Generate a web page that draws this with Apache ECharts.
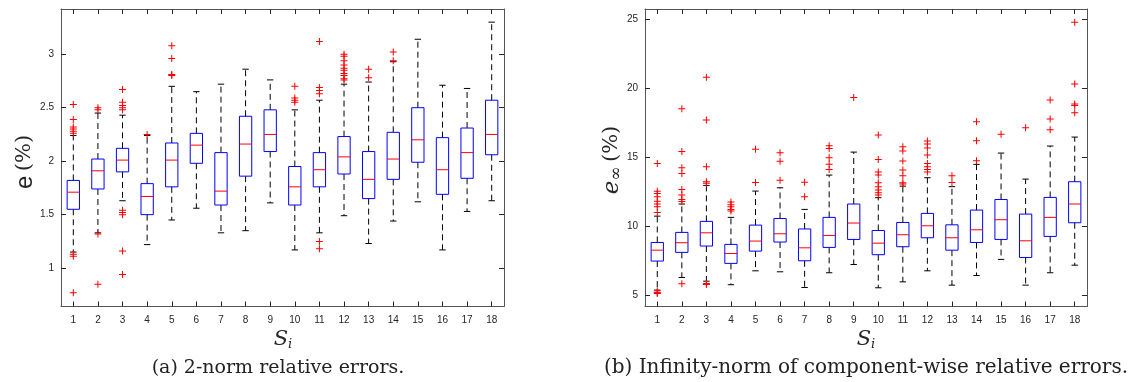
<!DOCTYPE html>
<html>
<head>
<meta charset="utf-8">
<script src="https://cdn.jsdelivr.net/npm/echarts@6/dist/echarts.min.js"></script>
<style>
html,body{margin:0;padding:0;background:#fff;}
#chart{width:1141px;height:382px;}
</style>
</head>
<body>
<div id="chart"></div>
<script>
// ---------- data ----------
const categories = ['1','2','3','4','5','6','7','8','9','10','11','12','13','14','15','16','17','18'];

// (a) 2-norm relative errors (%)
const errLow  = [1.15, 1.33, 1.63, 1.22, 1.45, 1.56, 1.33, 1.35, 1.61, 1.17, 1.33, 1.49, 1.23, 1.44, 1.62, 1.17, 1.53, 1.63];
const errQ1   = [1.55, 1.74, 1.90, 1.50, 1.76, 1.98, 1.59, 1.86, 2.09, 1.59, 1.76, 1.88, 1.65, 1.83, 1.99, 1.69, 1.84, 2.06];
const errMed  = [1.71, 1.91, 2.01, 1.67, 2.01, 2.15, 1.72, 2.16, 2.25, 1.76, 1.92, 2.04, 1.83, 2.02, 2.20, 1.92, 2.08, 2.25];
const errQ3   = [1.82, 2.02, 2.12, 1.79, 2.17, 2.26, 2.08, 2.42, 2.48, 1.95, 2.08, 2.23, 2.09, 2.27, 2.50, 2.22, 2.31, 2.57];
const errHigh = [2.24, 2.45, 2.43, 2.24, 2.70, 2.65, 2.72, 2.86, 2.76, 2.48, 2.57, 2.72, 2.74, 2.93, 3.14, 2.71, 2.68, 3.30];
const errOutliers = [
  [2.53, 2.39, 2.32, 2.30, 2.28, 2.26, 1.13, 1.11, 0.77],
  [2.50, 2.48, 1.32, 0.85],
  [2.67, 2.55, 2.52, 2.50, 2.48, 1.54, 1.52, 1.50, 1.16, 0.94],
  [2.25],
  [3.08, 2.96, 2.81, 2.80],
  [], [], [], [],
  [2.70, 2.59, 2.57, 2.55],
  [3.12, 2.69, 2.66, 2.63, 1.25, 1.18],
  [3.00, 2.98, 2.94, 2.90, 2.87, 2.85, 2.82, 2.80, 2.77, 2.76],
  [2.86, 2.78],
  [3.02, 2.94],
  [], [], [], []
];
const errTicks = [1, 1.5, 2, 2.5, 3];

// (b) infinity-norm of component-wise relative errors (%)
const infLow  = [5.34, 6.26, 5.99, 5.73, 6.74, 6.67, 5.53, 6.60, 7.20, 5.51, 5.94, 6.74, 5.70, 6.40, 7.57, 5.70, 6.60, 7.15];
const infQ1   = [7.45, 8.08, 8.54, 7.28, 8.17, 8.83, 7.47, 8.44, 9.02, 7.91, 8.49, 9.14, 8.24, 8.80, 9.02, 7.71, 9.24, 10.23];
const infMed  = [8.24, 8.78, 9.50, 8.00, 8.90, 9.43, 8.41, 9.31, 10.21, 8.75, 9.36, 10.01, 9.14, 9.72, 10.45, 8.92, 10.62, 11.59];
const infQ3   = [8.80, 9.53, 10.33, 8.66, 10.06, 10.54, 9.78, 10.62, 11.59, 9.67, 10.25, 10.91, 10.08, 11.15, 11.92, 10.86, 12.07, 13.21];
const infHigh = [10.71, 11.59, 12.94, 10.62, 12.53, 12.77, 11.20, 13.69, 15.36, 12.05, 12.89, 13.50, 12.85, 14.47, 15.29, 13.40, 15.80, 16.45];
const infOutliers = [
  [14.54, 12.51, 12.36, 12.12, 11.80, 11.59, 11.39, 10.98, 5.29, 5.17, 5.10],
  [18.51, 15.41, 14.22, 13.81, 12.65, 12.24, 11.92, 11.78, 5.80],
  [20.79, 17.69, 14.30, 13.21, 13.09, 5.82, 5.75],
  [11.73, 11.54, 11.39, 11.20, 11.08],
  [15.56, 13.16],
  [15.31, 14.69, 13.31],
  [13.18, 12.12],
  [15.82, 15.63, 14.95, 14.47, 14.10],
  [19.33],
  [16.60, 14.83, 13.91, 13.69, 13.14, 12.85, 12.60, 12.41, 12.24],
  [15.75, 15.44, 14.71, 14.06, 13.64, 13.14, 13.04],
  [16.16, 15.94, 15.65, 15.15, 14.54, 14.30, 14.10, 13.91],
  [13.64, 13.16],
  [17.57, 16.19, 14.73],
  [16.65],
  [17.13],
  [19.14, 17.76, 16.99],
  [24.78, 20.30, 18.85, 18.75, 18.22]
];
const infTicks = [5, 10, 15, 20, 25];

// ---------- helpers ----------
const AXIS_COLOR = '#555555';
const TEXT_COLOR = '#262626';
const PLUS = 'path://M3,0h1v3h3v1h-3v3h-1v-3h-3v-1h3z';

function boxRows(lo, q1, md, q3, hi) {
  return categories.map((c, i) => [i, lo[i], q1[i], md[i], q3[i], hi[i]]);
}
function outlierPoints(list) {
  const pts = [];
  list.forEach((arr, i) => arr.forEach(v => pts.push([i, v])));
  return pts;
}

function seg(x1, y1, x2, y2, color, dashed) {
  return {
    type: 'line',
    shape: { x1: x1, y1: y1, x2: x2, y2: y2 },
    style: dashed ? { stroke: color, lineWidth: 1, lineDash: [6, 4] } : { stroke: color, lineWidth: 1 }
  };
}

function renderBox(params, api) {
  const i = api.value(0);
  const low = api.coord([i, api.value(1)]);
  const q1 = api.coord([i, api.value(2)]);
  const med = api.coord([i, api.value(3)]);
  const q3 = api.coord([i, api.value(4)]);
  const high = api.coord([i, api.value(5)]);
  const band = api.size([1, 0])[0];
  const hw = band * 0.25;
  const cw = band * 0.13;
  const cx = low[0];
  const BLUE = '#0000ff';
  return {
    type: 'group',
    children: [
      seg(cx, q3[1], cx, high[1], '#000', true),
      seg(cx, q1[1], cx, low[1], '#000', true),
      seg(cx - cw, high[1], cx + cw, high[1], '#000', false),
      seg(cx - cw, low[1], cx + cw, low[1], '#000', false),
      seg(cx - hw, q3[1], cx + hw, q3[1], BLUE, false),
      seg(cx - hw, q1[1], cx + hw, q1[1], BLUE, false),
      seg(cx - hw, q3[1], cx - hw, q1[1], BLUE, false),
      seg(cx + hw, q3[1], cx + hw, q1[1], BLUE, false),
      seg(cx - hw, med[1], cx + hw, med[1], '#ff0000', false)
    ]
  };
}

function xAxes(gi) {
  const common = {
    type: 'category', data: categories, gridIndex: gi,
    axisLine: { show: true, lineStyle: { color: AXIS_COLOR, width: 1 } },
    axisTick: { show: true, inside: true, alignWithLabel: true, length: 5, lineStyle: { color: TEXT_COLOR } },
    splitLine: { show: false }
  };
  return [
    Object.assign({}, common, { position: 'bottom',
      axisLabel: { show: true, margin: 9, color: TEXT_COLOR, fontSize: 10, fontFamily: 'Liberation Sans' } }),
    Object.assign({}, common, { position: 'top', axisLabel: { show: false } })
  ];
}
function yAxes(gi, min, max, ticks) {
  const common = {
    type: 'value', gridIndex: gi, min: min, max: max,
    axisLine: { show: true, lineStyle: { color: AXIS_COLOR, width: 1 } },
    axisTick: { show: true, inside: true, length: 5, customValues: ticks, lineStyle: { color: TEXT_COLOR } },
    splitLine: { show: false }
  };
  return [
    Object.assign({}, common, { position: 'left',
      axisLabel: { show: true, customValues: ticks, margin: 7, color: TEXT_COLOR, fontSize: 10, fontFamily: 'Liberation Sans' } }),
    Object.assign({}, common, { position: 'right', axisLabel: { show: false } })
  ];
}

const chart = echarts.init(document.getElementById('chart'), null, { renderer: 'canvas' });

const option = {
  animation: false,
  backgroundColor: '#ffffff',
  grid: [
    { left: 61, top: 9, width: 443, height: 297.5 },
    { left: 645, top: 9, width: 442, height: 297.5 }
  ],
  xAxis: [].concat(xAxes(0), xAxes(1)),
  yAxis: [].concat(yAxes(0, 0.641, 3.423, errTicks), yAxes(1, 4.15, 25.75, infTicks)),
  series: [
    { type: 'custom', xAxisIndex: 0, yAxisIndex: 0, renderItem: renderBox,
      data: boxRows(errLow, errQ1, errMed, errQ3, errHigh), encode: { x: 0, y: [1, 2, 3, 4, 5] }, z: 2 },
    { type: 'scatter', xAxisIndex: 0, yAxisIndex: 0, symbol: PLUS, symbolSize: 7,
      itemStyle: { color: '#ff0000', opacity: 1 }, data: outlierPoints(errOutliers), z: 3 },
    { type: 'custom', xAxisIndex: 2, yAxisIndex: 2, renderItem: renderBox,
      data: boxRows(infLow, infQ1, infMed, infQ3, infHigh), encode: { x: 0, y: [1, 2, 3, 4, 5] }, z: 2 },
    { type: 'scatter', xAxisIndex: 2, yAxisIndex: 2, symbol: PLUS, symbolSize: 7,
      itemStyle: { color: '#ff0000', opacity: 1 }, data: outlierPoints(infOutliers), z: 3 }
  ],
  graphic: [
    { type: 'text', x: 25, y: 162, rotation: Math.PI / 2,
      style: { text: '{e|e}{g| }{p|(%)}', align: 'center', verticalAlign: 'middle', fill: TEXT_COLOR,
        rich: { e: { fontFamily: 'Liberation Sans', fontSize: 24, fill: TEXT_COLOR },
                g: { fontFamily: 'DejaVu Serif', fontSize: 14, fill: TEXT_COLOR },
                p: { fontFamily: 'DejaVu Serif', fontSize: 21, fill: TEXT_COLOR } } } },
    { type: 'text', x: 612, y: 160, rotation: Math.PI / 2,
      style: { text: '{e|e}{s|∞}{g| }{p|(%)}', align: 'center', verticalAlign: 'middle', fill: TEXT_COLOR,
        rich: { e: { fontFamily: 'DejaVu Serif', fontStyle: 'italic', fontSize: 23, fill: TEXT_COLOR },
                s: { fontFamily: 'DejaVu Serif', fontSize: 17, padding: [10, 0, 0, 0], fill: TEXT_COLOR },
                g: { fontFamily: 'DejaVu Serif', fontSize: 14, fill: TEXT_COLOR },
                p: { fontFamily: 'DejaVu Serif', fontSize: 21, fill: TEXT_COLOR } } } },
    { type: 'text', x: 283, y: 340,
      style: { text: '{s|S}{i|i}', align: 'center', verticalAlign: 'middle', fill: TEXT_COLOR,
        rich: { s: { fontFamily: 'DejaVu Serif', fontStyle: 'italic', fontSize: 21, fill: TEXT_COLOR },
                i: { fontFamily: 'DejaVu Serif', fontStyle: 'italic', fontSize: 13, padding: [10, 0, 0, 0], fill: TEXT_COLOR } } } },
    { type: 'text', x: 866, y: 340,
      style: { text: '{s|S}{i|i}', align: 'center', verticalAlign: 'middle', fill: TEXT_COLOR,
        rich: { s: { fontFamily: 'DejaVu Serif', fontStyle: 'italic', fontSize: 21, fill: TEXT_COLOR },
                i: { fontFamily: 'DejaVu Serif', fontStyle: 'italic', fontSize: 13, padding: [10, 0, 0, 0], fill: TEXT_COLOR } } } },
    { type: 'text', x: 278, y: 368,
      style: { text: '(a) 2-norm relative errors.', align: 'center', verticalAlign: 'middle',
        fontFamily: 'DejaVu Serif', fontSize: 19, fill: '#222' } },
    { type: 'text', x: 866, y: 368,
      style: { text: '(b) Infinity-norm of component-wise relative errors.', align: 'center', verticalAlign: 'middle',
        fontFamily: 'DejaVu Serif', fontSize: 20, fill: '#222' } }
  ]
};
chart.setOption(option);
</script>
</body>
</html>
